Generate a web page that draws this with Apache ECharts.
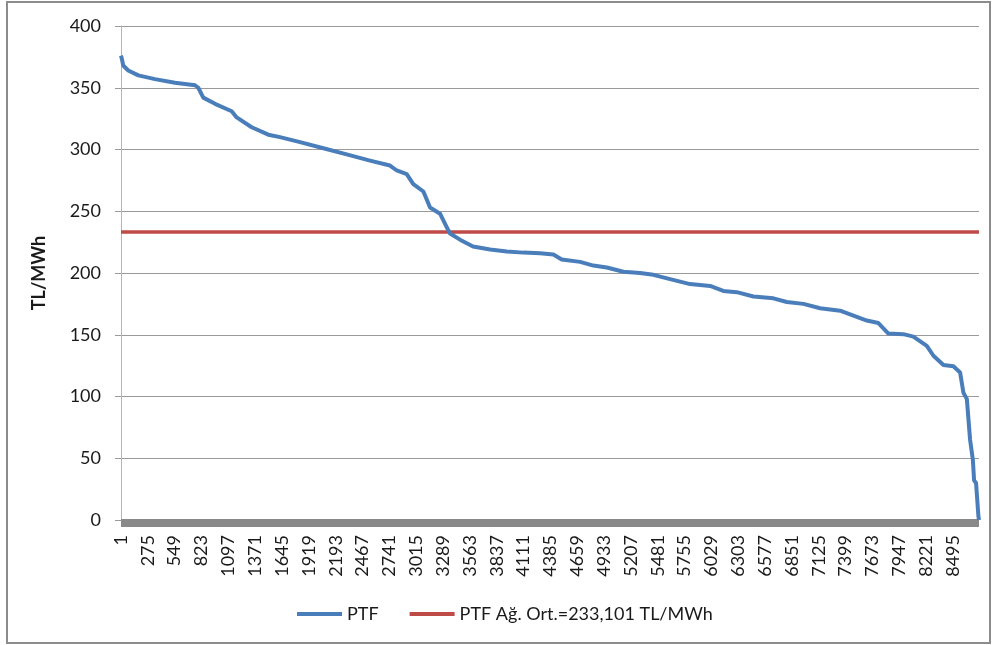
<!DOCTYPE html>
<html>
<head>
<meta charset="utf-8">
<title>PTF</title>
<script src="https://cdn.jsdelivr.net/npm/echarts@6/dist/echarts.min.js"></script>
<style>
  html, body { margin: 0; padding: 0; background: #fff; }
  #chart { width: 994px; height: 645px; }
</style>
</head>
<body>
<div id="chart"></div>
<script>
// saat sırası (sıralı süre eğrisi) ve PTF değerleri
var hours = [1, 8, 24, 75, 178, 348, 552, 757, 790, 841, 961, 1131, 1182, 1335, 1505, 1624,
    1778, 1829, 2067, 2305, 2543, 2747, 2816, 2918, 2985, 3088, 3156, 3258, 3327, 3360, 3462,
    3595, 3769, 3939, 4109, 4279, 4415, 4500, 4688, 4823, 4960, 5130, 5300, 5436, 5606, 5810,
    6015, 6150, 6287, 6457, 6661, 6798, 6968, 7138, 7342, 7478, 7615, 7733, 7835, 7988, 8090,
    8227, 8295, 8397, 8499, 8567, 8601, 8636, 8669, 8697, 8710, 8730, 8754, 8760];
var ptf = [376, 374, 368, 364, 360, 357, 354, 352, 350, 342, 337, 331, 326, 318, 312, 310,
    307, 306, 301, 296, 291, 287, 283, 280, 272, 266, 253, 248, 237, 232, 227,
    221.5, 219, 217.5, 216.5, 216, 215, 211, 209, 206, 204.5, 201, 200, 198.5, 195, 191,
    189.5, 185.5, 184.5, 181, 179.5, 176.5, 175, 171.5, 169.5, 165.5, 161.5, 159.5, 151, 150.5, 148.5,
    141, 133, 125.5, 124.5, 119.5, 103, 98, 65, 49, 32, 30, 3, 0];
var avgPrice = 233.101;
var lastHour = 8760;
var xTicks = [1, 275, 549, 823, 1097, 1371, 1645, 1919, 2193, 2467, 2741, 3015, 3289, 3563,
    3837, 4111, 4385, 4659, 4933, 5207, 5481, 5755, 6029, 6303, 6577, 6851, 7125, 7399,
    7673, 7947, 8221, 8495];
var yMin = 0, yMax = 400, yStep = 50;

var ptfName = "PTF";
var avgName = "PTF Ağ. Ort.=233,101 TL/MWh";

var ptfData = [];
for (var i = 0; i < hours.length; i++) {
    ptfData.push([hours[i], ptf[i]]);
}
var avgData = [[hours[0], avgPrice], [lastHour, avgPrice]];

var font = "Lato, 'Open Sans', sans-serif";
var myChart = echarts.init(document.getElementById("chart"));
var option = {
    backgroundColor: "#fff",
    animation: false,
    textStyle: { fontFamily: font },
    graphic: [{
        type: "rect",
        shape: { x: 7, y: 2, width: 983, height: 641 },
        style: { fill: null, stroke: "#8c8c8c", lineWidth: 2 },
        silent: true
    }],
    grid: { left: 121, right: 15, top: 26, bottom: 125 },
    legend: {
        left: 292,
        top: 600,
        icon: "rect",
        itemWidth: 45,
        itemHeight: 4,
        itemGap: 31,
        textStyle: { fontFamily: font, fontSize: 18, color: "#1a1a1a" },
        data: [ptfName, avgName]
    },
    xAxis: {
        type: "value",
        min: 1,
        max: lastHour,
        offset: 3,
        axisLine: { show: true, onZero: false, lineStyle: { color: "#898989", width: 8, cap: "butt" } },
        axisTick: { show: false },
        splitLine: { show: false },
        axisLabel: {
            customValues: xTicks,
            formatter: function(v) { return String(v); },
            rotate: 90,
            margin: 12,
            fontSize: 18,
            color: "#1a1a1a",
            fontFamily: font
        }
    },
    yAxis: {
        type: "value",
        min: yMin,
        max: yMax,
        interval: yStep,
        name: "TL/MWh",
        nameLocation: "middle",
        nameRotate: 90,
        nameGap: 73,
        nameTextStyle: { fontFamily: font, fontSize: 18, fontWeight: "bold", color: "#1a1a1a" },
        axisLine: { show: true, lineStyle: { color: "#b5b5b5", width: 1 } },
        axisTick: { show: true, length: 6, lineStyle: { color: "#9a9a9a" } },
        splitLine: { show: true, lineStyle: { color: "#9a9a9a", width: 1 } },
        axisLabel: { margin: 20, fontSize: 18, color: "#1a1a1a", fontFamily: font }
    },
    series: [{
        name: ptfName,
        type: "line",
        data: ptfData,
        showSymbol: false,
        symbol: "none",
        itemStyle: { color: "#4a7ebb" },
        lineStyle: { color: "#4a7ebb", width: 4, join: "round" },
        z: 3
    }, {
        name: avgName,
        type: "line",
        data: avgData,
        showSymbol: false,
        symbol: "none",
        itemStyle: { color: "#be4b48" },
        lineStyle: { color: "#be4b48", width: 3.5 },
        z: 2
    }]
};
myChart.setOption(option, true);
</script>
</body>
</html>
